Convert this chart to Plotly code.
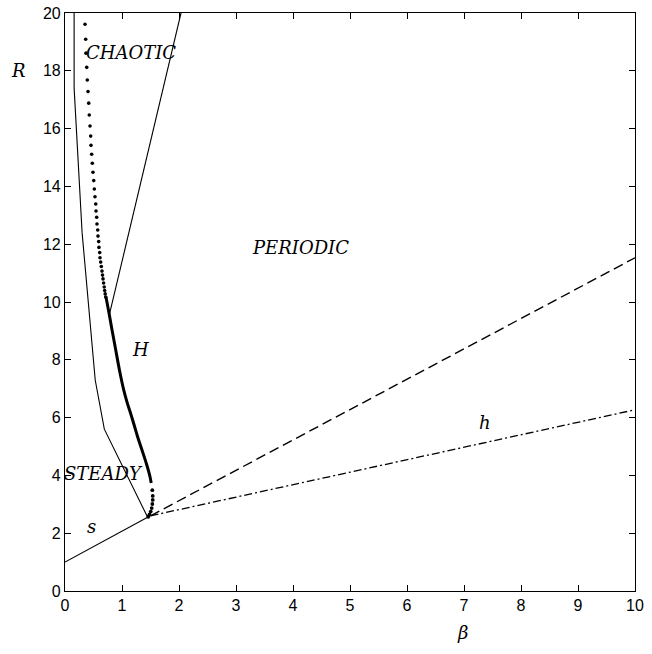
import plotly.graph_objects as go

# ---- data (beta, R) ----
s_beta = [0.0, 1.45]
s_R = [1.0, 2.55]

steady_beta = [0.16, 0.16, 0.30, 0.53, 0.69, 1.45]
steady_R = [20.0, 17.4, 12.4, 7.3, 5.6, 2.55]

hline_beta = [0.77, 2.035]
hline_R = [9.49, 20.0]

dashed_beta = [1.50, 10.0]
dashed_R = [2.60, 11.53]

dashdot_beta = [1.50, 10.0]
dashdot_R = [2.60, 6.27]

# sparse dots of the H curve (upper part)
dots_beta = [0.351, 0.363, 0.368, 0.381, 0.391, 0.404, 0.416, 0.426, 0.439, 0.451,
             0.456, 0.468, 0.479, 0.491, 0.504, 0.514, 0.526, 0.539, 0.544, 0.556,
             0.561, 0.574, 0.579, 0.591, 0.596, 0.609, 0.614, 0.626, 0.637, 0.649,
             0.658, 0.667, 0.677, 0.688, 0.696, 0.705, 0.714]
dots_R = [19.61, 19.09, 18.61, 18.12, 17.68, 17.28, 16.88, 16.47, 16.09, 15.74,
          15.42, 15.11, 14.80, 14.49, 14.20, 13.91, 13.64, 13.39, 13.15, 12.93,
          12.70, 12.49, 12.28, 12.09, 11.89, 11.71, 11.53, 11.38, 11.23, 11.07,
          10.93, 10.80, 10.66, 10.52, 10.40, 10.28, 10.17]

# dense (continuous-looking) part of the H curve
dense_beta = [0.719, 0.772, 0.825, 0.890, 0.955, 1.030, 1.092, 1.155, 1.218,
              1.275, 1.333, 1.390, 1.435, 1.470, 1.496, 1.512]
dense_R = [10.17, 9.62, 9.03, 8.34, 7.65, 6.96, 6.51, 6.12, 5.71,
           5.33, 4.98, 4.64, 4.36, 4.12, 3.91, 3.74]

# sparse dots of the H curve (lower end)
low_beta = [1.532, 1.539, 1.539, 1.532, 1.521, 1.504, 1.482, 1.461]
low_R = [3.49, 3.29, 3.15, 3.01, 2.87, 2.75, 2.65, 2.57]

labels = ["CHAOTIC", "PERIODIC", "STEADY", "H", "s", "h"]
label_beta = [1.16, 4.13, 0.68, 1.32, 0.47, 7.37]
label_R = [18.64, 11.87, 4.08, 8.37, 2.22, 5.82]

x_ticks = list(range(0, 11))
y_ticks = list(range(0, 21, 2))

fig = go.Figure()
line = dict(color="black", width=1.1)
fig.add_trace(go.Scatter(x=s_beta, y=s_R, mode="lines", line=line))
fig.add_trace(go.Scatter(x=steady_beta, y=steady_R, mode="lines", line=line))
fig.add_trace(go.Scatter(x=hline_beta, y=hline_R, mode="lines", line=line))
fig.add_trace(go.Scatter(x=dashed_beta, y=dashed_R, mode="lines",
                         line=dict(color="black", width=1.4, dash="10px,5px")))
fig.add_trace(go.Scatter(x=dashdot_beta, y=dashdot_R, mode="lines",
                         line=dict(color="black", width=1.3, dash="8px,3px,2px,3px")))
fig.add_trace(go.Scatter(x=dots_beta, y=dots_R, mode="markers",
                         marker=dict(color="black", size=3.6)))
fig.add_trace(go.Scatter(x=dense_beta, y=dense_R, mode="lines",
                         line=dict(color="black", width=3.0, shape="spline")))
fig.add_trace(go.Scatter(x=low_beta, y=low_R, mode="markers",
                         marker=dict(color="black", size=3.8)))

serif_it = "DejaVu Serif"
for t, xb, yr in zip(labels, label_beta, label_R):
    fig.add_annotation(x=xb, y=yr, text=f"<i>{t}</i>", showarrow=False,
                       font=dict(family=serif_it, size=18, color="black"))

# axis titles placed as paper-referenced annotations
fig.add_annotation(xref="paper", yref="paper", x=-0.082, y=0.90, text="<i>R</i>",
                   xanchor="center", yanchor="middle",
                   showarrow=False, font=dict(family=serif_it, size=18, color="black"))
fig.add_annotation(xref="paper", yref="paper", x=0.698, y=-0.071, text="<i>β</i>",
                   xanchor="center", yanchor="middle",
                   showarrow=False, font=dict(family=serif_it, size=18, color="black"))

axis_common = dict(showline=True, linecolor="black", linewidth=1.2, mirror="ticks",
                   ticks="inside", ticklen=6, tickcolor="black", tickwidth=1,
                   showgrid=False, zeroline=False, automargin=False,
                   ticklabeloverflow="allow",
                   tickfont=dict(family="Liberation Sans", size=16, color="black"))
fig.update_xaxes(range=[0, 10], tickvals=x_ticks, ticktext=[str(v) for v in x_ticks],
                 **axis_common)
fig.update_yaxes(range=[0, 20], tickvals=y_ticks, ticktext=[str(v) for v in y_ticks],
                 **axis_common)

fig.update_layout(template="none", width=652, height=654, showlegend=False,
                  margin=dict(l=65, r=17, t=13, b=63, autoexpand=False),
                  plot_bgcolor="white", paper_bgcolor="white")

# remove the default 8px page margin so the figure fills the window
fig.write_html("out.html", config={"displayModeBar": False},
               post_script="document.body.style.margin='0px';")
